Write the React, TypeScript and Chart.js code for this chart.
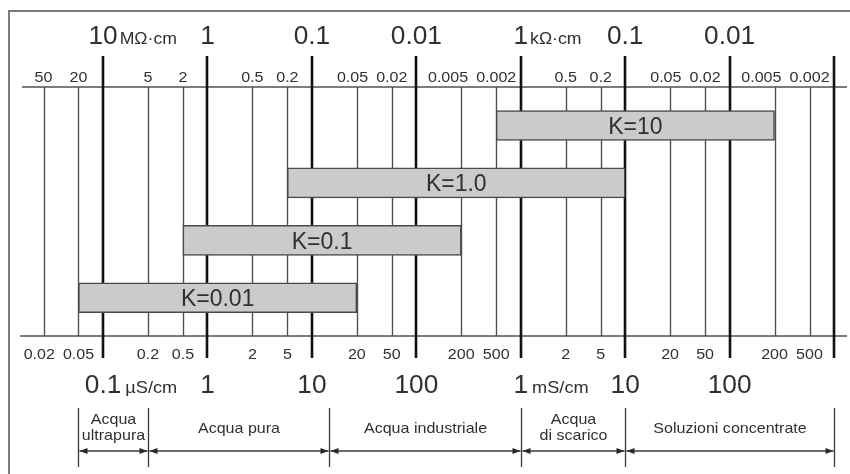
import React, { useEffect, useRef } from 'react';
import { Chart, registerables } from 'chart.js';

Chart.register(...registerables);

// ---- Data (conductivity in µS/cm) ----
const GRID_VALUES = [0.02, 0.05, 0.1, 0.2, 0.5, 1, 2, 5, 10, 20, 50, 100, 200, 500, 1000, 2000, 5000, 10000, 20000, 50000, 100000, 200000, 500000, 1000000];
const DECADE_VALUES = [0.1, 1, 10, 100, 1000, 10000, 100000, 1000000];

const MINOR_VALUES = [0.02, 0.05, 0.2, 0.5, 2, 5, 20, 50, 200, 500, 2000, 5000, 20000, 50000, 200000, 500000];
const TOP_MINOR_LABELS = ['50', '20', '5', '2', '0.5', '0.2', '0.05', '0.02', '0.005', '0.002', '0.5', '0.2', '0.05', '0.02', '0.005', '0.002'];
const BOTTOM_MINOR_LABELS = ['0.02', '0.05', '0.2', '0.5', '2', '5', '20', '50', '200', '500', '2', '5', '20', '50', '200', '500'];

const MAJOR_VALUES = [0.1, 1, 10, 100, 1000, 10000, 100000];
const TOP_MAJOR_LABELS = ['10', '1', '0.1', '0.01', '1', '0.1', '0.01'];
const TOP_MAJOR_UNITS = ['MΩ·cm', '', '', '', 'kΩ·cm', '', ''];
const BOTTOM_MAJOR_LABELS = ['0.1', '1', '10', '100', '1', '10', '100'];
const BOTTOM_MAJOR_UNITS = ['µS/cm', '', '', '', 'mS/cm', '', ''];

const K_LABELS = ['K=10', 'K=1.0', 'K=0.1', 'K=0.01'];
const K_MIN = [500, 5, 0.5, 0.05];
const K_MAX = [200000, 10000, 200, 20];

const RANGE_LABELS = [['Acqua', 'ultrapura'], ['Acqua pura'], ['Acqua industriale'], ['Acqua', 'di scarico'], ['Soluzioni concentrate']];
const RANGE_BOUNDS = [0.05, 0.2, 13, 1000, 10000, 1000000];

// schematic decade axis: position of 1-2-5 within a decade as drawn in the reference
const MANTISSA_KNOTS = [1, 2, 5, 10];
const MANTISSA_POS = [0, 0.43, 0.765, 1];
const X_MIN = -1.776;
const X_MAX = 6.124;

function pos(v: number): number {
  const e = Math.floor(Math.log10(v) + 1e-9);
  const m = v / Math.pow(10, e);
  for (let i = 0; i < MANTISSA_KNOTS.length - 1; i++) {
    if (m <= MANTISSA_KNOTS[i + 1] + 1e-9) {
      const t = Math.log(Math.max(m, 1) / MANTISSA_KNOTS[i]) / Math.log(MANTISSA_KNOTS[i + 1] / MANTISSA_KNOTS[i]);
      return e + MANTISSA_POS[i] + t * (MANTISSA_POS[i + 1] - MANTISSA_POS[i]);
    }
  }
  return e + 1;
}

const FONT = '"Liberation Sans", Arial, Helvetica, sans-serif';
const TEXT = '#303030';

function drawText(ctx: CanvasRenderingContext2D, s: string, x: number, y: number, size: number, align: CanvasTextAlign, sx = 1.07) {
  ctx.save();
  ctx.font = `${size}px ${FONT}`;
  ctx.textAlign = align;
  ctx.textBaseline = 'alphabetic';
  ctx.fillStyle = TEXT;
  ctx.translate(x, y);
  ctx.scale(sx, 1);
  ctx.fillText(s, 0, 0);
  ctx.restore();
}
function textWidth(ctx: CanvasRenderingContext2D, s: string, size: number, sx = 1.07) {
  ctx.save();
  ctx.font = `${size}px ${FONT}`;
  const w = ctx.measureText(s).width * sx;
  ctx.restore();
  return w;
}

function line(ctx: CanvasRenderingContext2D, x1: number, y1: number, x2: number, y2: number) {
  ctx.beginPath();
  ctx.moveTo(x1, y1);
  ctx.lineTo(x2, y2);
  ctx.stroke();
}

// draws a row of labels centred on their lines, nudging a label left when it would crowd its right neighbour
function drawRow(ctx: CanvasRenderingContext2D, x: any, labels: string[], values: number[], y: number, size: number) {
  const centers = values.map((v) => x.getPixelForValue(pos(v)));
  const widths = labels.map((l) => textWidth(ctx, l, size));
  for (let i = labels.length - 2; i >= 0; i--) {
    const gap = (centers[i + 1] - widths[i + 1] / 2) - (centers[i] + widths[i] / 2);
    if (gap < 8) centers[i] -= 8 - gap;
  }
  labels.forEach((l, i) => drawText(ctx, l, centers[i], y, size, 'center'));
}

const deco = {
  id: 'deco',
  beforeDatasetsDraw(chart: any) {
    const { ctx, chartArea } = chart;
    const { top, bottom, left, right } = chartArea;
    const x = chart.scales.x;
    ctx.save();
    // frame
    ctx.strokeStyle = '#7a7a7a';
    ctx.lineWidth = 2;
    ctx.beginPath();
    ctx.moveTo(9, 474);
    ctx.lineTo(9, 11);
    ctx.lineTo(850, 11);
    ctx.stroke();
    // horizontal axis lines
    ctx.strokeStyle = '#505050';
    ctx.lineWidth = 1.4;
    line(ctx, left, top, right, top);
    line(ctx, left - 2, bottom, right, bottom);
    // vertical grid
    GRID_VALUES.forEach((v) => {
      const px = Math.round(x.getPixelForValue(pos(v)));
      if (DECADE_VALUES.includes(v)) {
        ctx.strokeStyle = '#111111';
        ctx.lineWidth = 2.6;
        line(ctx, px, top - 31, px, bottom + 22);
      } else {
        ctx.strokeStyle = '#505050';
        ctx.lineWidth = 1.4;
        line(ctx, px + 0.5, top, px + 0.5, bottom);
      }
    });
    ctx.restore();
  },
  afterDatasetsDraw(chart: any) {
    const { ctx, chartArea } = chart;
    const { top, bottom } = chartArea;
    const x = chart.scales.x;
    const y = chart.scales.y;
    ctx.save();
    // bar labels
    K_LABELS.forEach((lab, i) => {
      const cx = (x.getPixelForValue(pos(K_MIN[i])) + x.getPixelForValue(pos(K_MAX[i]))) / 2;
      const cy = y.getPixelForValue(i);
      drawText(ctx, lab, cx, cy + 8.5, 23, 'center', 1.0);
    });
    // minor labels
    drawRow(ctx, x, TOP_MINOR_LABELS, MINOR_VALUES, top - 5, 15);
    drawRow(ctx, x, BOTTOM_MINOR_LABELS, MINOR_VALUES, bottom + 23, 15);
    // major labels
    MAJOR_VALUES.forEach((v, i) => {
      const px = x.getPixelForValue(pos(v));
      drawText(ctx, TOP_MAJOR_LABELS[i], px, top - 43, 25, 'center', 1.05);
      if (TOP_MAJOR_UNITS[i]) {
        const w = textWidth(ctx, TOP_MAJOR_LABELS[i], 25, 1.05);
        drawText(ctx, TOP_MAJOR_UNITS[i], px + w / 2 + 2, top - 43, 16.5, 'left');
      }
      drawText(ctx, BOTTOM_MAJOR_LABELS[i], px, bottom + 57, 25, 'center', 1.05);
      if (BOTTOM_MAJOR_UNITS[i]) {
        const w = textWidth(ctx, BOTTOM_MAJOR_LABELS[i], 25, 1.05);
        drawText(ctx, BOTTOM_MAJOR_UNITS[i], px + w / 2 + 4, bottom + 57, 17, 'left');
      }
    });
    // application ranges
    const arrowY = bottom + 115;
    ctx.strokeStyle = '#3a3a3a';
    ctx.fillStyle = '#2a2a2a';
    ctx.lineWidth = 1.3;
    RANGE_BOUNDS.forEach((v) => {
      const px = Math.round(x.getPixelForValue(pos(v))) + 0.5;
      line(ctx, px, bottom + 72, px, bottom + 131);
    });
    const arrow = (tipX: number, dir: number) => {
      ctx.beginPath();
      ctx.moveTo(tipX, arrowY);
      ctx.lineTo(tipX - dir * 8, arrowY - 3);
      ctx.lineTo(tipX - dir * 8, arrowY + 3);
      ctx.closePath();
      ctx.fill();
    };
    RANGE_LABELS.forEach((lines, i) => {
      const x1 = Math.round(x.getPixelForValue(pos(RANGE_BOUNDS[i]))) + 0.5;
      const x2 = Math.round(x.getPixelForValue(pos(RANGE_BOUNDS[i + 1]))) + 0.5;
      line(ctx, x1 + 1, arrowY, x2 - 1, arrowY);
      arrow(x1 + 1, -1);
      arrow(x2 - 1, 1);
      const cx = (x1 + x2) / 2;
      if (lines.length === 1) {
        drawText(ctx, lines[0], cx, bottom + 97, 15, 'center');
      } else {
        drawText(ctx, lines[0], cx, bottom + 88, 15, 'center');
        drawText(ctx, lines[1], cx, bottom + 104, 15, 'center');
      }
    });
    ctx.restore();
  },
};

export default function App() {
  const ref = useRef<HTMLCanvasElement>(null);
  useEffect(() => {
    document.body.style.margin = '0';
    const canvas = ref.current;
    if (!canvas) return;
    const chart = new Chart(canvas, {
      type: 'bar',
      data: {
        datasets: [
          {
            data: K_LABELS.map((_, i) => ({ x: [pos(K_MIN[i]), pos(K_MAX[i])], y: i })) as any,
            backgroundColor: '#cbcbcb',
            borderColor: '#4a4a4a',
            borderWidth: 1.5,
            borderSkipped: false,
            barThickness: 30,
          },
        ],
      },
      options: {
        indexAxis: 'y',
        responsive: false,
        animation: false,
        devicePixelRatio: 1,
        events: [],
        layout: { padding: { left: 22, right: 3, top: 87, bottom: 138 } },
        plugins: { legend: { display: false }, tooltip: { enabled: false } },
        scales: {
          x: { type: 'linear', min: X_MIN, max: X_MAX, display: false, offset: false, bounds: 'data', grace: 0 },
          y: { type: 'linear', min: -0.671, max: 3.667, reverse: true, display: false, offset: false, bounds: 'data', grace: 0 },
        },
      } as any,
      plugins: [deco],
    });
    return () => chart.destroy();
  }, []);
  return (
    <div style={{ position: 'fixed', left: 0, top: 0, width: 850, height: 474, background: '#ffffff' }}>
      <canvas ref={ref} width={850} height={474} style={{ display: 'block', width: 850, height: 474 }} />
    </div>
  );
}
